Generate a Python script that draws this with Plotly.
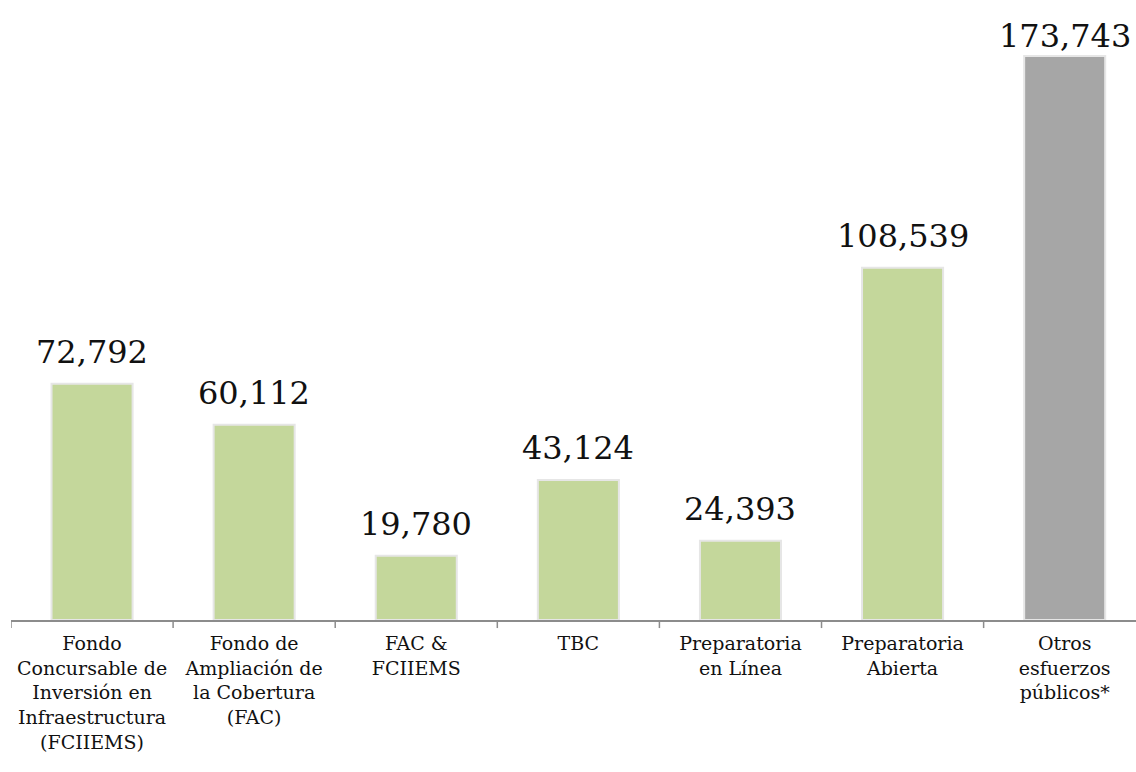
import plotly.graph_objects as go

categories = [
    "Fondo<br>Concursable de<br>Inversión en<br>Infraestructura<br>(FCIIEMS)",
    "Fondo de<br>Ampliación de<br>la Cobertura<br>(FAC)",
    "FAC &<br>FCIIEMS",
    "TBC",
    "Preparatoria<br>en Línea",
    "Preparatoria<br>Abierta",
    "Otros<br>esfuerzos<br>públicos*",
]
values = [72792, 60112, 19780, 43124, 24393, 108539, 173743]
labels = ["72,792", "60,112", "19,780", "43,124", "24,393", "108,539", "173,743"]
colors = ["#c4d79b"] * 6 + ["#a6a6a6"]
label_shift = [11, 11, 11, 11, 11, 11, -1]

x = list(range(len(values)))
fig = go.Figure()
fig.add_trace(go.Bar(
    x=x, y=values, width=0.5,
    marker=dict(color=colors, line=dict(color="#e6e6e6", width=2)),
    hoverinfo="skip", cliponaxis=False,
))
for xi, v, t, s in zip(x, values, labels, label_shift):
    fig.add_annotation(x=xi, y=v, text=t, showarrow=False, yanchor="bottom",
                       yshift=s, font=dict(family="DejaVu Serif", size=32, color="#111111"))

fig.update_layout(
    width=1136, height=772,
    margin=dict(l=11, r=0, t=0, b=152, autoexpand=False),
    paper_bgcolor="white", plot_bgcolor="white",
    showlegend=False,
    bargap=0.5,
)
fig.update_xaxes(
    tickmode="array", tickvals=x, ticktext=categories,
    range=[-0.5, 6.44], automargin=False,
    showline=True, linecolor="#8c8c8c", linewidth=2,
    ticks="", showgrid=False, zeroline=False, ticklabelstandoff=5,
    tickfont=dict(family="DejaVu Serif", size=19, color="#111111"),
)
fig.update_yaxes(range=[0, 191000], visible=False, automargin=False)
# boundary tick marks
for b in [i - 0.5 for i in range(len(values) + 1)]:
    fig.add_shape(type="line", xref="x", yref="paper", x0=b, x1=b, y0=0, y1=-0.013,
                  line=dict(color="#8c8c8c", width=1.5))

fig.write_html("out.html", config={"displayModeBar": False},
               post_script="document.body.style.margin='0';")
